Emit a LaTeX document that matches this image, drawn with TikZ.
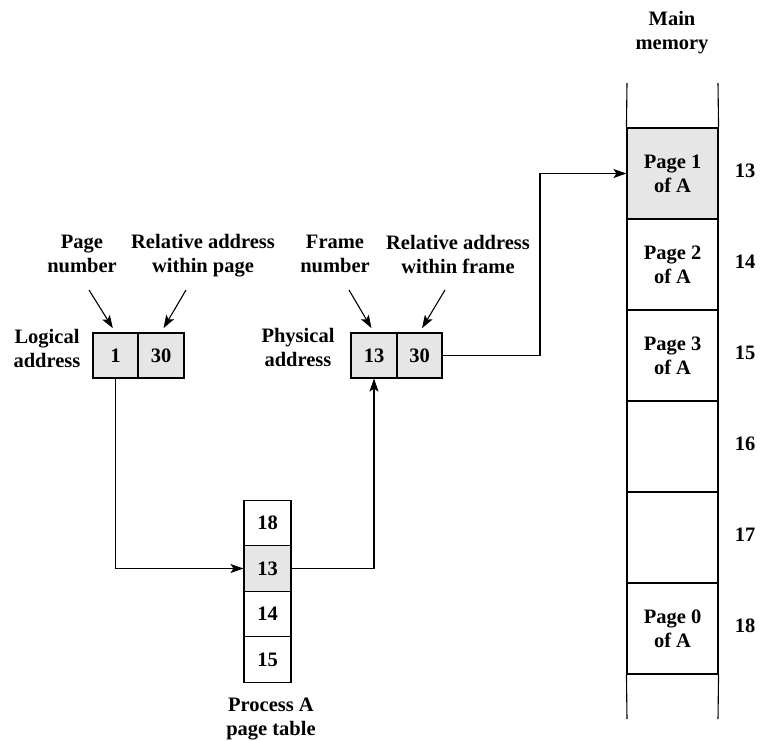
\documentclass[tikz,border=0pt]{standalone}
\usepackage{fontspec}
\setmainfont{Liberation Serif}
\usetikzlibrary{arrows.meta}
\definecolor{shade}{HTML}{E6E6E6}
\begin{document}
\begin{tikzpicture}[x=1pt,y=-1pt,
  every node/.style={font=\fontsize{20.5}{24}\selectfont\bfseries},
  lbl/.style={align=center,inner sep=0pt},
  cellbox/.style={draw,line width=1.1pt,inner sep=0pt,minimum height=45pt},
  ptcell/.style={draw,line width=1.1pt,inner sep=0pt,minimum width=47pt,minimum height=45.5pt},
  memcell/.style={draw,line width=1.1pt,inner sep=0pt,minimum width=91pt,minimum height=91pt,align=center},
  conn/.style={line width=1.1pt,-{Stealth[length=13pt,width=9pt,inset=3pt]}},
  plain/.style={line width=1.1pt},
  hl/.style={fill=shade}]
\useasboundingbox (0,0) rectangle (760,740);

% logical address
\node[cellbox,hl,minimum width=45pt] (la1) at (115.5,355.5) {1};
\node[cellbox,hl,minimum width=46pt] (la2) at (161,355.5) {30};
\node[lbl] (loglbl) at (47,348) {Logical\\address};
\node[lbl] (pnlbl) at (82,253.5) {Page\\number};
\node[lbl] (ralbl) at (203,255.5) {Relative address\\within page};

% physical address
\node[cellbox,hl,minimum width=46pt] (pa1) at (374,355.5) {13};
\node[cellbox,hl,minimum width=45pt] (pa2) at (419.5,355.5) {30};
\node[lbl] (phylbl) at (298,347.5) {Physical\\address};
\node[lbl] (fnlbl) at (335,253.5) {Frame\\number};
\node[lbl] (rflbl) at (458,254) {Relative address\\within frame};

% page table
\node[ptcell] (pt18) at (267.5,523) {18};
\node[ptcell,hl] (pt13) at (267.5,568.5) {13};
\node[ptcell] (pt14) at (267.5,614) {14};
\node[ptcell] (pt15) at (267.5,659.5) {15};
\node[lbl] (ptlbl) at (271,719) {Process A\\page table};

% main memory
\node[lbl] (mmlbl) at (672,33) {Main\\memory};
\node[memcell,hl] (m13) at (672.5,173.5) {Page 1\\of A};
\node[memcell] (m14) at (672.5,264.5) {Page 2\\of A};
\node[memcell] (m15) at (672.5,355.5) {Page 3\\of A};
\node[memcell] (m16) at (672.5,446.5) {};
\node[memcell] (m17) at (672.5,537.5) {};
\node[memcell] (m18) at (672.5,628.5) {Page 0\\of A};
\coordinate (mtl) at (627,83);
\coordinate (mtr) at (718,83);
\coordinate (mbl) at (627,719);
\coordinate (mbr) at (718,719);
\draw[plain] (mtl) -- (m13.north west);
\draw[plain] (mtr) -- (m13.north east);
\draw[plain] (m18.south west) -- (mbl);
\draw[plain] (m18.south east) -- (mbr);

\node[anchor=base] (f13) at (745,177) {13};
\node[anchor=base] (f14) at (745,268) {14};
\node[anchor=base] (f15) at (745,359) {15};
\node[anchor=base] (f16) at (745,450) {16};
\node[anchor=base] (f17) at (745,541) {17};
\node[anchor=base] (f18) at (745,632) {18};

% label arrows
\coordinate (t1) at (89,290);
\coordinate (t2) at (186,290);
\coordinate (t3) at (349,290);
\coordinate (t4) at (445,290);
\draw[conn,shorten >=5pt] (t1) -- (la1.north);
\draw[conn,shorten >=5pt] (t2) -- (la2.north);
\draw[conn,shorten >=5pt] (t3) -- (pa1.north);
\draw[conn,shorten >=5pt] (t4) -- (pa2.north);

% main connectors
\draw[conn] (la1.south) |- (pt13.west);
\draw[conn] (pt13.east) -| (pa1.south);
\coordinate (bend) at (540,260);
\draw[conn] (pa2.east) -| (bend) |- (m13.west);
\end{tikzpicture}
\end{document}
